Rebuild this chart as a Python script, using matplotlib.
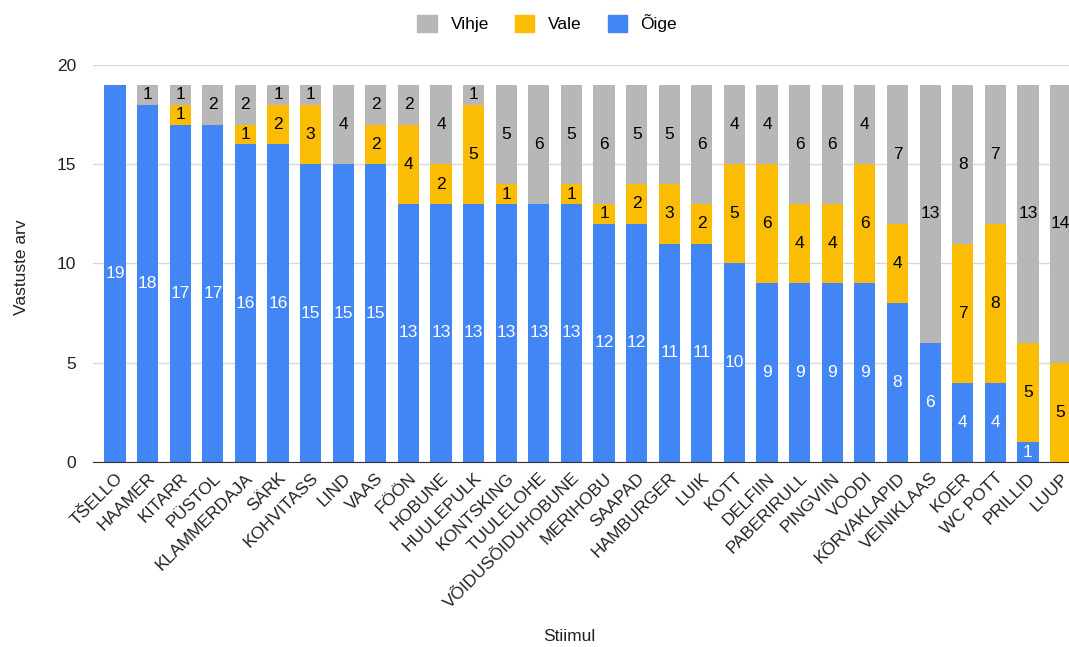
import matplotlib.pyplot as plt
from matplotlib.patches import Patch
import numpy as np

plt.rcParams['font.family'] = ['Liberation Sans', 'DejaVu Sans']

stiimulid = ['TŠELLO', 'HAAMER', 'KITARR', 'PÜSTOL', 'KLAMMERDAJA', 'SÄRK',
             'KOHVITASS', 'LIND', 'VAAS', 'FÖÖN', 'HOBUNE', 'HUULEPULK',
             'KONTSKING', 'TUULELOHE', 'VÕIDUSÕIDUHOBUNE', 'MERIHOBU', 'SAAPAD',
             'HAMBURGER', 'LUIK', 'KOTT', 'DELFIIN', 'PABERIRULL', 'PINGVIIN',
             'VOODI', 'KÕRVAKLAPID', 'VEINIKLAAS', 'KOER', 'WC POTT',
             'PRILLID', 'LUUP']
oige = [19, 18, 17, 17, 16, 16, 15, 15, 15, 13, 13, 13, 13, 13, 13,
        12, 12, 11, 11, 10, 9, 9, 9, 9, 8, 6, 4, 4, 1, 0]
vale = [0, 0, 1, 0, 1, 2, 3, 0, 2, 4, 2, 5, 1, 0, 1,
        1, 2, 3, 2, 5, 6, 4, 4, 6, 4, 0, 7, 8, 5, 5]
vihje = [0, 1, 1, 2, 2, 1, 1, 4, 2, 2, 4, 1, 5, 6, 5,
         6, 5, 5, 6, 4, 4, 6, 6, 4, 7, 13, 8, 7, 13, 14]

SININE = '#4285F4'
KOLLANE = '#FBBC04'
HALL = '#B7B7B7'

fig = plt.figure(figsize=(10.69, 6.47), dpi=100)
ax = fig.add_axes([0.087, 0.286, 0.913, 0.6135])

x = np.arange(len(stiimulid))
w = 0.65
oige = np.array(oige)
vale = np.array(vale)
vihje = np.array(vihje)

# kolm virna: õige all, vale keskel, vihje peal
seeriad = [(oige, SININE, 'white'), (vale, KOLLANE, 'black'), (vihje, HALL, 'black')]
alus = np.zeros(len(x))
for vaartused, varv, tekstivarv in seeriad:
    ax.bar(x, vaartused, w, bottom=alus, color=varv, zorder=2)
    for xi, b, v in zip(x, alus, vaartused):
        if v > 0:
            ax.text(xi, b + v / 2, str(v), ha='center', va='center',
                    color=tekstivarv, fontsize=12.5, zorder=3, clip_on=True)
    alus = alus + vaartused

ax.set_xlim(-0.675, 29.26)
ax.set_ylim(0, 20)
ax.set_yticks([0, 5, 10, 15, 20])
ax.yaxis.grid(True, color='#d9d9d9', linewidth=1, zorder=0)
ax.set_axisbelow(True)
for s in ['top', 'right', 'left']:
    ax.spines[s].set_visible(False)
ax.spines['bottom'].set_color('#333333')
ax.spines['bottom'].set_zorder(4)
ax.tick_params(axis='both', length=0, labelsize=12.5, colors='#222222')
ax.tick_params(axis='y', pad=12)
ax.set_xticks(x)
ax.set_xticklabels(stiimulid, rotation=45, ha='right', rotation_mode='anchor',
                   fontsize=12.5)
ax.tick_params(axis='x', pad=6)

fig.text(0.02, 0.587, 'Vastuste arv', rotation=90, ha='center', va='center',
         fontsize=12.5, color='#222222')
fig.text(0.533, 0.017, 'Stiimul', ha='center', va='center', fontsize=12.5,
         color='#222222')

handles = [Patch(color=HALL, label='Vihje'), Patch(color=KOLLANE, label='Vale'),
           Patch(color=SININE, label='Õige')]
fig.legend(handles=handles, loc='center', bbox_to_anchor=(0.512, 0.964),
           ncol=3, frameon=False, fontsize=12.5, handlelength=1.1,
           handleheight=1.1, columnspacing=1.5, handletextpad=0.8)

fig.savefig('out.png', dpi=100)
